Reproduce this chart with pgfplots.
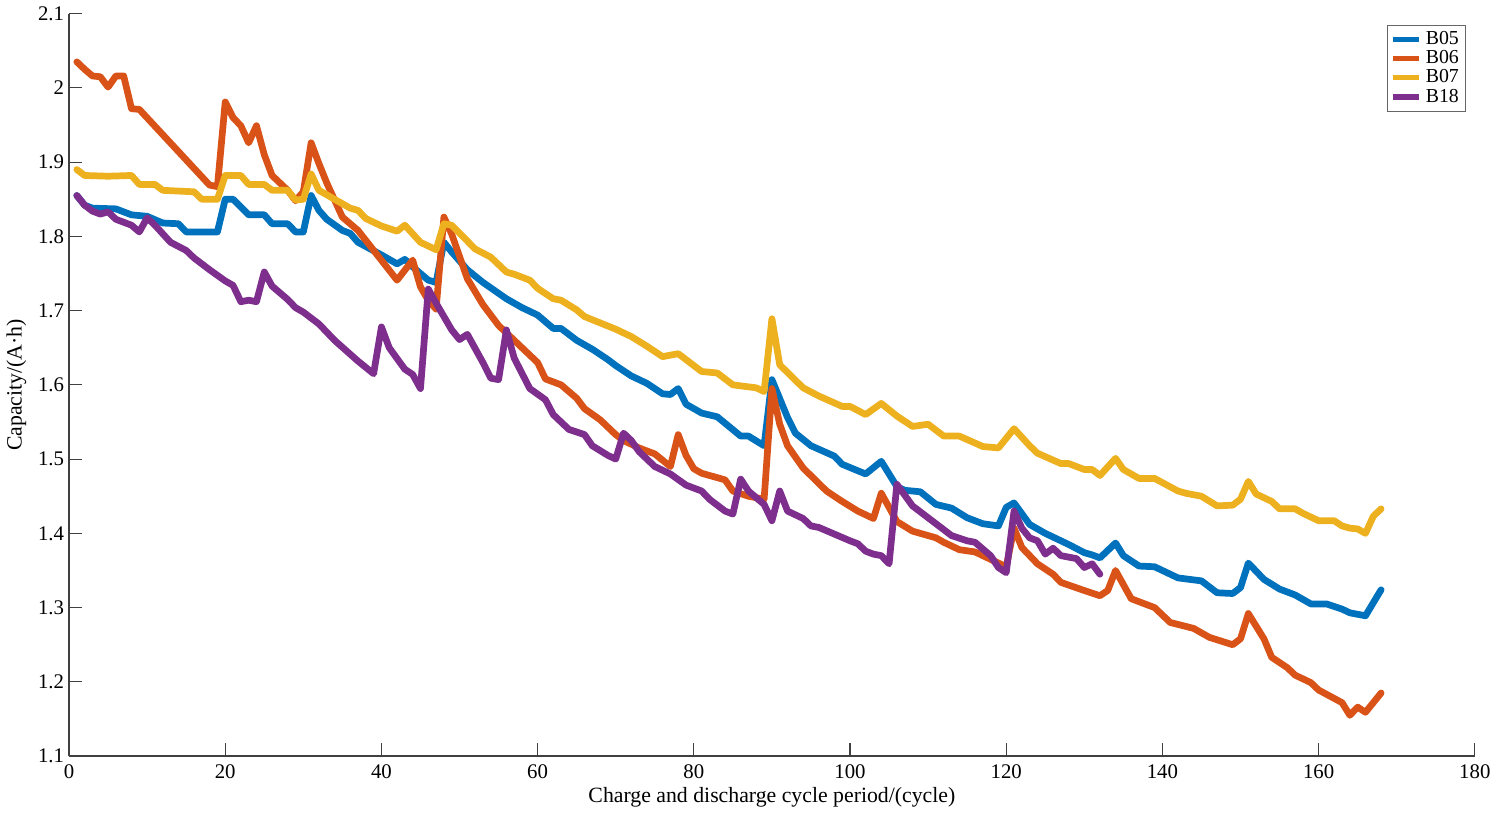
\documentclass[border=0pt]{standalone}
\usepackage{pgfplots}
\pgfplotsset{compat=1.18}
\usepackage{fontspec}
\setmainfont{Liberation Serif}

\definecolor{mblue}{rgb}{0,0.447,0.741}
\definecolor{morange}{rgb}{0.85,0.325,0.098}
\definecolor{myellow}{rgb}{0.929,0.694,0.125}
\definecolor{mpurple}{rgb}{0.494,0.184,0.556}

\begin{document}
\begin{tikzpicture}
\begin{axis}[
    scale only axis,
    width=710pt, height=375pt,
    xmin=0, xmax=180, ymin=1.1, ymax=2.1,
    xtick={0,20,...,180},
    ytick={1.1,1.2,...,2.1},
    yticklabel style={/pgf/number format/fixed, /pgf/number format/precision=1},
    axis x line=bottom, axis y line=left,
    axis line style={-, black!75, line width=0.7pt},
    tick style={black!75, line width=0.6pt},
    tick align=inside,
    major tick length=6.5pt,
    /pgf/number format/assume math mode=true,
    ticklabel style={font=\fontsize{10.5}{12}\selectfont},
    xticklabel style={yshift=-1pt},
    yticklabel style={xshift=1pt},
    xlabel={Charge and discharge cycle period/(cycle)},
    ylabel={Capacity/(A·h)},
    label style={font=\fontsize{11}{13}\selectfont},
    xlabel style={yshift=2.5pt},
    ylabel style={yshift=-1pt},
    every axis plot/.append style={line width=3.4pt, line join=round, line cap=round},
    legend cell align=left,
    legend style={at={(0.9935,0.985)}, anchor=north east, draw=black!60, line width=0.5pt,
        font=\fontsize{10}{11}\selectfont, inner sep=1.2pt, row sep=-2.5pt},
    legend image code/.code={\draw[#1, line width=2.6pt, line cap=butt] (0pt,0pt) -- (13.5pt,0pt);},
]
% B05
\addplot[mblue] coordinates {
(1,1.855) (2,1.842) (3,1.838) (6,1.837) (8,1.829) (10,1.827) (12,1.818) (14,1.817)
(15,1.806) (19,1.806) (20,1.850) (21,1.850) (23,1.829) (25,1.829) (26,1.817) (28,1.817)
(29,1.806) (30,1.806) (31,1.855) (32,1.835) (33,1.823) (35,1.808) (36,1.804) (37,1.792)
(40,1.775) (42,1.763) (43,1.769) (44,1.759) (46,1.741) (47,1.738) (48,1.792) (49,1.779)
(51,1.755) (53,1.738) (56,1.716) (58,1.704) (60,1.694) (62,1.676) (63,1.676) (65,1.660)
(67,1.648) (69,1.634) (70,1.626) (72,1.612) (74,1.602) (76,1.588) (77,1.587) (78,1.595)
(79,1.574) (81,1.562) (83,1.557) (86,1.531) (87,1.531) (89,1.518) (90,1.607) (92,1.556)
(93,1.535) (95,1.518) (98,1.504) (99,1.493) (102,1.480) (104,1.497) (106,1.463) (107,1.458)
(109,1.456) (111,1.439) (113,1.434) (115,1.421) (117,1.413) (119,1.410) (120,1.435) (121,1.441)
(123,1.412) (125,1.400) (128,1.385) (130,1.374) (131,1.371) (132,1.367) (134,1.387) (135,1.370)
(137,1.356) (139,1.355) (142,1.340) (145,1.336) (147,1.320) (149,1.319) (150,1.327) (151,1.360)
(153,1.338) (155,1.325) (157,1.317) (159,1.305) (161,1.305) (163,1.298) (164,1.293) (166,1.289)
(168,1.324)
};
% B06
\addplot[morange] coordinates {
(1,2.035) (2,2.025) (3,2.016) (4,2.015) (5,2.001) (6,2.016) (7,2.016) (8,1.972)
(9,1.971) (18,1.869) (19,1.867) (20,1.981) (21,1.960) (22,1.949) (23,1.926) (24,1.949)
(25,1.910) (26,1.882) (28,1.862) (29,1.848) (30,1.860) (31,1.926) (32,1.898) (33,1.872)
(35,1.826) (37,1.808) (42,1.741) (44,1.768) (45,1.732) (46,1.714) (47,1.702) (48,1.826)
(49,1.803) (51,1.743) (53,1.708) (55,1.680) (57,1.660) (60,1.630) (61,1.608) (63,1.600)
(65,1.582) (66,1.568) (68,1.553) (70,1.533) (71,1.525) (73,1.515) (75,1.507) (77,1.490)
(78,1.533) (79,1.505) (80,1.487) (81,1.481) (84,1.472) (85,1.457) (87,1.450) (89,1.446)
(90,1.595) (91,1.547) (92,1.518) (94,1.488) (97,1.457) (99,1.443) (101,1.430) (103,1.420)
(104,1.454) (106,1.416) (108,1.403) (111,1.394) (112,1.388) (114,1.378) (116,1.375) (118,1.365)
(120,1.355) (121,1.407) (122,1.381) (124,1.359) (126,1.345) (127,1.334) (130,1.323) (132,1.316)
(133,1.323) (134,1.350) (136,1.312) (139,1.300) (141,1.280) (144,1.272) (146,1.260) (149,1.250)
(150,1.258) (151,1.292) (153,1.258) (154,1.233) (156,1.219) (157,1.209) (159,1.199) (160,1.189)
(163,1.172) (164,1.155) (165,1.166) (166,1.159) (168,1.185)
};
% B07
\addplot[myellow] coordinates {
(1,1.890) (2,1.882) (5,1.881) (8,1.882) (9,1.870) (11,1.870) (12,1.862) (16,1.860)
(17,1.850) (19,1.850) (20,1.882) (22,1.882) (23,1.870) (25,1.870) (26,1.862) (28,1.862)
(29,1.849) (30,1.850) (31,1.884) (32,1.862) (34,1.850) (36,1.838) (37,1.835) (38,1.824)
(40,1.814) (42,1.807) (43,1.815) (45,1.792) (47,1.782) (48,1.817) (49,1.815) (52,1.783)
(54,1.772) (56,1.752) (57,1.749) (59,1.741) (60,1.730) (62,1.716) (63,1.714) (65,1.701)
(66,1.692) (70,1.675) (72,1.665) (74,1.652) (76,1.638) (78,1.642) (81,1.618) (83,1.616)
(85,1.600) (88,1.596) (89,1.591) (90,1.689) (91,1.627) (94,1.596) (96,1.585) (99,1.571)
(100,1.571) (102,1.560) (104,1.575) (106,1.558) (108,1.544) (110,1.547) (112,1.531) (114,1.531)
(117,1.517) (119,1.515) (121,1.541) (123,1.518) (124,1.508) (127,1.494) (128,1.494) (130,1.486)
(131,1.486) (132,1.478) (134,1.501) (135,1.486) (137,1.474) (139,1.474) (142,1.457) (143,1.454)
(145,1.450) (147,1.437) (149,1.438) (150,1.446) (151,1.470) (152,1.453) (154,1.443) (155,1.433)
(157,1.433) (158,1.427) (160,1.417) (162,1.417) (163,1.410) (164,1.407) (165,1.406) (166,1.400)
(167,1.423) (168,1.433)
};
% B18
\addplot[mpurple] coordinates {
(1,1.855) (2,1.842) (3,1.834) (4,1.830) (5,1.833) (6,1.823) (8,1.815) (9,1.806)
(10,1.825) (11,1.815) (13,1.792) (15,1.781) (16,1.771) (18,1.755) (20,1.740) (21,1.734)
(22,1.712) (23,1.714) (24,1.712) (25,1.752) (26,1.733) (28,1.715) (29,1.704) (30,1.698)
(32,1.682) (34,1.660) (37,1.632) (39,1.615) (40,1.678) (41,1.650) (43,1.621) (44,1.614)
(45,1.595) (46,1.729) (47,1.710) (49,1.674) (50,1.661) (51,1.668) (53,1.630) (54,1.609)
(55,1.607) (56,1.674) (57,1.636) (59,1.595) (61,1.580) (62,1.560) (64,1.540) (66,1.533)
(67,1.518) (69,1.505) (70,1.500) (71,1.535) (72,1.525) (73,1.510) (75,1.490) (77,1.480)
(79,1.465) (81,1.457) (82,1.446) (84,1.430) (85,1.426) (86,1.473) (87,1.457) (89,1.439)
(90,1.417) (91,1.457) (92,1.430) (94,1.420) (95,1.410) (96,1.408) (98,1.399) (100,1.390)
(101,1.386) (102,1.376) (103,1.372) (104,1.370) (105,1.359) (106,1.466) (108,1.437) (110,1.421)
(112,1.405) (113,1.397) (115,1.390) (116,1.388) (118,1.370) (119,1.354) (120,1.347) (121,1.430)
(122,1.407) (123,1.394) (124,1.390) (125,1.372) (126,1.380) (127,1.370) (129,1.366) (130,1.354)
(131,1.359) (132,1.345)
};
\legend{B05,B06,B07,B18}
\end{axis}
\end{tikzpicture}
\end{document}
